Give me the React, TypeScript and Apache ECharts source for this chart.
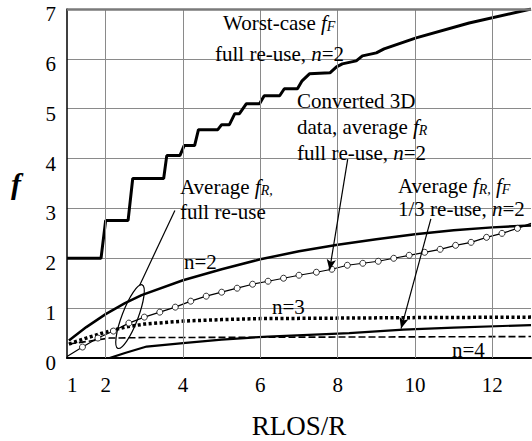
import React, { useEffect, useRef } from 'react';
import * as echarts from 'echarts';

// ---- data ----
const xTickLabels = [1, 2, 4, 6, 8, 10, 12];
const gridX = [2, 4, 6, 8, 10, 12];
const topBorderY = 7;

const worstCaseFF: number[][] = [
  [1, 2], [1.88, 2], [2.0, 2.76], [2.58, 2.76], [2.7, 3.6], [3.5, 3.6], [3.58, 4.06], [3.92, 4.06],
  [4.03, 4.26], [4.3, 4.26], [4.4, 4.58], [4.9, 4.58], [5.0, 4.68], [5.2, 4.68], [5.34, 4.9], [5.46, 4.9],
  [5.64, 5.1], [5.98, 5.1], [6.1, 5.26], [6.5, 5.26], [6.62, 5.4], [6.96, 5.4], [7.08, 5.56], [7.27, 5.7],
  [7.8, 5.72], [7.97, 5.84], [8.12, 5.9], [8.48, 5.96], [8.64, 6.06], [9.0, 6.12], [9.2, 6.2],
  [10.03, 6.42], [11.4, 6.72], [13, 7.0],
];

const avgFullN2: number[][] = [
  [1.05, 0.35], [1.5, 0.62], [2, 0.88], [2.5, 1.1], [2.93, 1.26], [4, 1.56], [5, 1.78], [6, 1.98],
  [7, 2.14], [8, 2.27], [9, 2.38], [10, 2.48], [11, 2.56], [12, 2.62], [13, 2.66],
];

const converted3DX = [1.4, 1.8, 2.2, 2.6, 3.0, 3.4, 3.8, 4.2, 4.6, 5.0, 5.4, 5.8, 6.2, 6.6, 7.0, 7.45, 7.85,
  8.25, 8.65, 9.05, 9.45, 9.85, 10.25, 10.65, 11.05, 11.45, 11.85, 12.25, 12.65];
const converted3DY = [0.22, 0.4, 0.54, 0.7, 0.82, 0.92, 1.02, 1.14, 1.24, 1.32, 1.4, 1.48, 1.54, 1.6, 1.66,
  1.72, 1.78, 1.86, 1.9, 1.94, 2.0, 2.06, 2.12, 2.18, 2.26, 2.32, 2.42, 2.5, 2.6];
const converted3DStart = [1, 0.03];
const converted3DEnd = [13, 2.7];

const avgFullN3: number[][] = [
  [1.05, 0.28], [1.5, 0.4], [2, 0.52], [2.5, 0.62], [3, 0.68], [4, 0.74], [5, 0.77], [6, 0.79],
  [8, 0.8], [10, 0.81], [13, 0.82],
];

const avgFullN4: number[][] = [
  [1.05, 0.28], [1.5, 0.33], [2.1, 0.4], [3, 0.41], [13, 0.43],
];

const avgThirdN2: number[][] = [
  [1, 0], [2.1, 0], [2.5, 0.1], [3.06, 0.23], [4, 0.3], [5, 0.37], [6.2, 0.43], [8.3, 0.5],
  [9.7, 0.57], [11, 0.61], [13, 0.66],
];

// annotation anchors (data coordinates)
const arrowConverted = [[8.26, 3.99], [7.79, 1.76]];
const arrowThird = [[10.41, 2.79], [9.64, 0.59]];
const ellipseLeader = [[2.88, 1.46], [3.79, 2.96]];
const ellipseCenter = [2.63, 0.83];

const FONT = 'Liberation Serif';

const rich = {
  r: { fontFamily: FONT, fontSize: 21, fill: '#000' },
  i: { fontFamily: FONT, fontSize: 21, fontStyle: 'italic', fill: '#000' },
  s: { fontFamily: FONT, fontSize: 14, fontStyle: 'italic', fill: '#000', verticalAlign: 'bottom' },
};

const labels: { text: string; x: number; y: number }[] = [
  { text: '{r|Worst-case }{i|f}{s|F}', x: 223, y: 23 },
  { text: '{r|full re-use, }{i|n}{r|=2}', x: 215, y: 54 },
  { text: '{r|Converted 3D}', x: 297, y: 101 },
  { text: '{r|data, average }{i|f}{s|R}', x: 297, y: 127 },
  { text: '{r|full re-use, }{i|n}{r|=2}', x: 297, y: 153 },
  { text: '{r|Average }{i|f}{s|R,}{r| }{i|f}{s|F}', x: 398, y: 186 },
  { text: '{r|1/3 re-use, }{i|n}{r|=2}', x: 398, y: 209 },
  { text: '{r|Average }{i|f}{s|R,}', x: 180, y: 187 },
  { text: '{r|full re-use}', x: 180, y: 212 },
  { text: '{r|n=2}', x: 184, y: 262 },
  { text: '{r|n=3}', x: 272, y: 307 },
  { text: '{r|n=4}', x: 452, y: 350 },
];

export default function App() {
  const ref = useRef<HTMLDivElement>(null);
  useEffect(() => {
    if (!ref.current) return;
    const chart = echarts.init(ref.current, null, { renderer: 'svg' });
    const lineBase = { type: 'line', symbol: 'none', silent: true, z: 3 };
    const convData: any[] = [
      { value: converted3DStart, symbol: 'none' },
      ...converted3DX.map((x, k) => [x, converted3DY[k]]),
      { value: converted3DEnd, symbol: 'none' },
    ];
    chart.setOption({
      animation: false,
      backgroundColor: '#fff',
      textStyle: { fontFamily: FONT },
      grid: { left: 67, right: 1, top: 9, bottom: 83, containLabel: false, outerBoundsMode: 'none' },
      xAxis: {
        type: 'value', min: 1, max: 13, interval: 1,
        axisLine: { lineStyle: { color: '#000', width: 2 } },
        axisTick: { show: false },
        splitLine: { show: false },
        axisLabel: {
          margin: 16, color: '#000', fontFamily: FONT, fontSize: 21, alignMinLabel: 'left',
          formatter: (v: number) => (xTickLabels.indexOf(v) >= 0 ? String(v) : ''),
        },
        name: 'RLOS/R', nameLocation: 'middle', nameGap: 54,
        nameTextStyle: { color: '#000', fontFamily: FONT, fontSize: 27 },
      },
      yAxis: {
        type: 'value', min: 0, max: 7, interval: 1,
        axisLine: { show: true, lineStyle: { color: '#000', width: 1.5 } },
        axisTick: { show: false },
        splitLine: { lineStyle: { color: '#8a8a8a', width: 1 } },
        axisLabel: {
          margin: 11, color: '#000', fontFamily: FONT, fontSize: 21,
          verticalAlign: 'top', lineHeight: 10,
        },
        name: 'f', nameLocation: 'middle', nameGap: 46, nameRotate: 0,
        nameTextStyle: { color: '#000', fontFamily: FONT, fontSize: 30, fontStyle: 'italic', fontWeight: 'bold' },
      },
      series: [
        {
          ...lineBase, name: 'grid', data: [], z: 1,
          markLine: {
            silent: true, symbol: 'none', label: { show: false },
            lineStyle: { color: '#8a8a8a', width: 1, type: 'solid' },
            data: [
              ...gridX.map((x) => ({ xAxis: x })),
              { yAxis: topBorderY, lineStyle: { color: '#7a7a7a', width: 2.5, type: 'solid' } },
            ],
          },
        },
        { ...lineBase, name: 'worst', data: worstCaseFF, lineStyle: { color: '#000', width: 3 } },
        { ...lineBase, name: 'n2', data: avgFullN2, lineStyle: { color: '#000', width: 2.5 } },
        {
          ...lineBase, name: 'conv', data: convData, symbol: 'circle', symbolSize: 6, showSymbol: true,
          itemStyle: { color: '#fff', borderColor: '#000', borderWidth: 0.8 },
          lineStyle: { color: '#000', width: 1.2 },
        },
        { ...lineBase, name: 'n3', data: avgFullN3, lineStyle: { color: '#000', width: 3.5, type: [3, 2.5], cap: 'butt' } },
        { ...lineBase, name: 'n4', data: avgFullN4, lineStyle: { color: '#000', width: 1.6, type: [7, 3] } },
        {
          ...lineBase, name: 'third', data: avgThirdN2, lineStyle: { color: '#000', width: 2.2 },
          markLine: {
            silent: true, label: { show: false }, symbol: ['none', 'arrow'], symbolSize: [7, 11],
            lineStyle: { color: '#000', width: 1.2, type: 'solid' },
            data: [
              [{ coord: arrowConverted[0] }, { coord: arrowConverted[1] }],
              [{ coord: arrowThird[0] }, { coord: arrowThird[1] }],
              [{ coord: ellipseLeader[0], symbol: 'none' }, { coord: ellipseLeader[1], symbol: 'none' }],
            ],
          },
        },
      ],
    });
    const c = chart.convertToPixel({ gridIndex: 0 }, ellipseCenter) as number[];
    chart.setOption({
      graphic: [
        {
          type: 'ellipse', x: c[0], y: c[1], rotation: -0.365, silent: true, z: 10,
          shape: { cx: 0, cy: 0, rx: 8, ry: 34 },
          style: { fill: 'none', stroke: '#000', lineWidth: 1.2 },
        },
        ...labels.map((l) => ({
          type: 'text', x: l.x, y: l.y, silent: true, z: 10,
          style: { text: l.text, rich, verticalAlign: 'middle', align: 'left', fill: '#000', fontFamily: FONT, fontSize: 21 },
        })),
      ],
    });
    return () => chart.dispose();
  }, []);
  return <div ref={ref} style={{ position: 'fixed', left: 0, top: 0, width: 532, height: 441 }} />;
}
